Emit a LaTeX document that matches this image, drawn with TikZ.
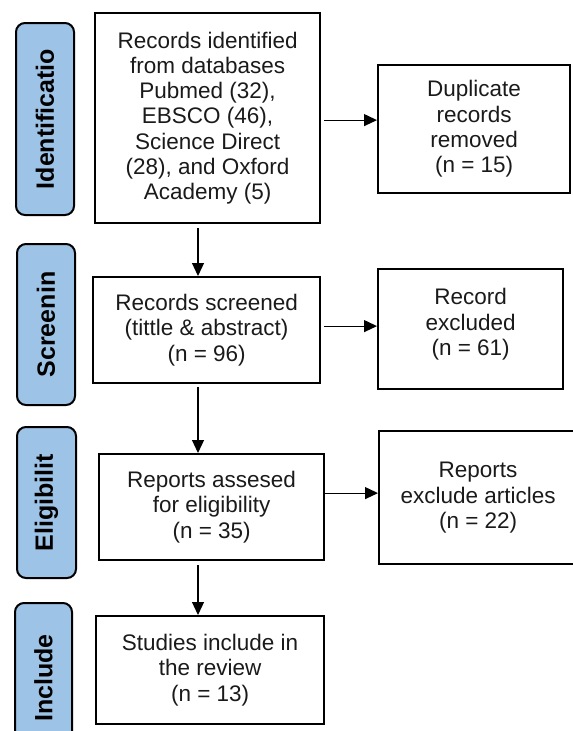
\documentclass[tikz,border=0pt]{standalone}
\usepackage{fontspec}
\setmainfont{Liberation Sans}
\usetikzlibrary{arrows.meta,calc}
\definecolor{labblue}{HTML}{9DC3E6}
\definecolor{txt}{HTML}{1A1A1A}
\begin{document}
\begin{tikzpicture}[x=1pt,y=-1pt,
  box/.style={draw, line width=2.2pt, anchor=north west, align=center, inner sep=0pt,
    text=txt, font=\fontsize{22.5}{25.3}\selectfont},
  lab/.style={draw, line width=2pt, rounded corners=9pt, fill=labblue, inner sep=0pt,
    rotate=90, font=\bfseries\fontsize{25}{28}\selectfont},
  arr/.style={line width=1.2pt, -{Triangle[length=13pt,width=12pt]}}]
\useasboundingbox (0,0) rectangle (573,731);
% side labels
\node[lab, minimum width=192pt, minimum height=58pt] (l1) at (45,119) {Identificatio};
\node[lab, minimum width=161pt, minimum height=58pt] (l2) at (46,324.5) {Screenin};
\node[lab, minimum width=151pt, minimum height=59pt] (l3) at (46.5,502.5) {Eligibilit};
\node[lab, minimum width=150pt, minimum height=57pt] (l4) at (43.5,678) {Include};
% boxes
\node[box, minimum width=225pt, minimum height=210pt] (b1) at (94,12)
  {Records identified\\from databases\\Pubmed (32),\\EBSCO (46),\\Science Direct\\(28), and Oxford\\Academy (5)};
\node[box, minimum width=192pt, minimum height=128pt] (dup) at (377,64)
  {Duplicate\\records\\removed\\(n = 15)};
\node[box, minimum width=227pt, minimum height=106pt] (scr) at (92,276)
  {Records screened\\(tittle \& abstract)\\(n = 96)};
\node[box, minimum width=185pt, minimum height=120pt, text depth=14pt] (exc) at (377,268)
  {Record\\excluded\\(n = 61)};
\node[box, minimum width=198pt, minimum height=133pt] (rex) at (378,430)
  {Reports\\exclude articles\\(n = 22)};
\node[box, minimum width=225pt, minimum height=106pt] (ass) at (98,453)
  {Reports assesed\\for eligibility\\(n = 35)};
\node[box, minimum width=228pt, minimum height=108pt] (stu) at (95,615)
  {Studies include in\\the review\\(n = 13)};
% connectors
\coordinate (vx) at (198,0);
\draw[arr] ($(b1.south -| vx)+(0,4)$) -- (scr.north -| vx);
\draw[arr] ($(scr.south -| vx)+(0,3)$) -- (ass.north -| vx);
\draw[arr] ($(ass.south -| vx)+(0,4)$) -- (stu.north -| vx);
\draw[arr] ($(b1.east)+(3,2)$) -- ($(dup.west)+(0,-9)$);
\draw[arr] ($(scr.east)+(3,-4)$) -- (exc.west |- {$(scr.east)+(0,-4)$});
\draw[arr] ($(ass.east)+(0,-14)$) -- (rex.west |- {$(ass.east)+(0,-14)$});
\end{tikzpicture}
\end{document}
